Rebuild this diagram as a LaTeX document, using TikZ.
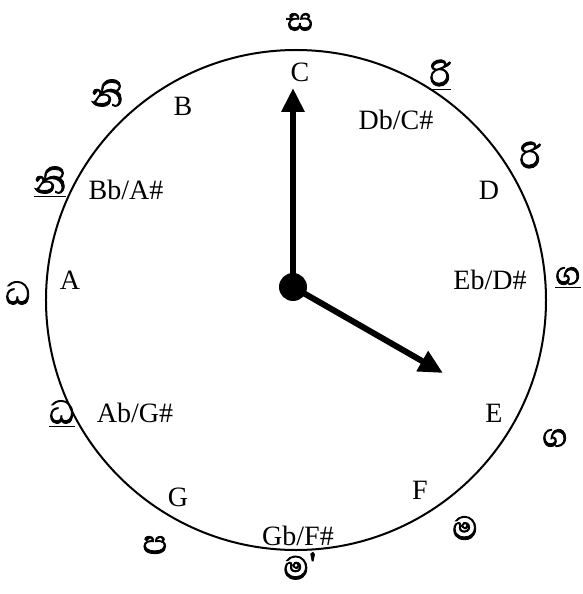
\documentclass[tikz,border=0pt]{standalone}
\usepackage{fontspec}
\setmainfont{Liberation Serif}
\newfontfamily\sinhala[Script=Sinhala,FakeBold=2]{Abhaya Libre}
\usetikzlibrary{arrows.meta}

\begin{document}
\begin{tikzpicture}[x=0.5pt,y=0.5pt,>={Triangle[length=12pt,width=11pt]},
  note/.style={font=\fontsize{14}{16}\selectfont},
  swara/.style={font=\sinhala\fontsize{21}{23}\selectfont,inner sep=1pt}]
  \useasboundingbox (-296,-294) rectangle (287,300);
  \draw[line width=1pt] (0,0) circle[radius=125pt];
  % hands
  \node[circle,fill,inner sep=0pt,minimum size=14pt] (hub) at (-3,13) {};
  \coordinate (tip12) at (-3,212);
  \coordinate (tip4) at (147,-73);
  \draw[->,line width=3pt] (hub.center) -- (tip12);
  \draw[->,line width=3pt] (hub.center) -- (tip4);
  % western notes
  \node[note] (C)  at (4,228) {C};
  \node[note] (Db) at (100,180) {Db/C\#};
  \node[note] (D)  at (193,110) {D};
  \node[note] (Eb) at (194,20) {Eb/D\#};
  \node[note] (E)  at (198,-113) {E};
  \node[note] (F)  at (124,-190) {F};
  \node[note] (Gb) at (2,-236) {Gb/F\#};
  \node[note] (G)  at (-118,-197) {G};
  \node[note] (Ab) at (-161,-113) {Ab/G\#};
  \node[note] (A)  at (-226,20) {A};
  \node[note] (Bb) at (-170,110) {Bb/A\#};
  \node[note] (B)  at (-113,194) {B};
  % swaras
  \node[swara] (sa)  at (4,278) {ස};
  \node[swara] (ri1) at (144,225) {\underline{රි}};
  \node[swara] (ri2) at (234,145) {රි};
  \node[swara] (ga1) at (272,22) {\underline{ග}};
  \node[swara] (ga2) at (259,-138) {ග};
  \node[swara] (ma1) at (169,-228) {ම};
  \node[swara] (ma2) at (4,-266) {ම'};
  \node[swara] (pa)  at (-141,-245) {ප};
  \node[swara] (dha1) at (-234,-114) {\underline{ධ}};
  \node[swara] (dha2) at (-278,7) {ධ};
  \node[swara] (ni1) at (-246,118) {\underline{නි}};
  \node[swara] (ni2) at (-189,207) {නි};
\end{tikzpicture}
\end{document}
